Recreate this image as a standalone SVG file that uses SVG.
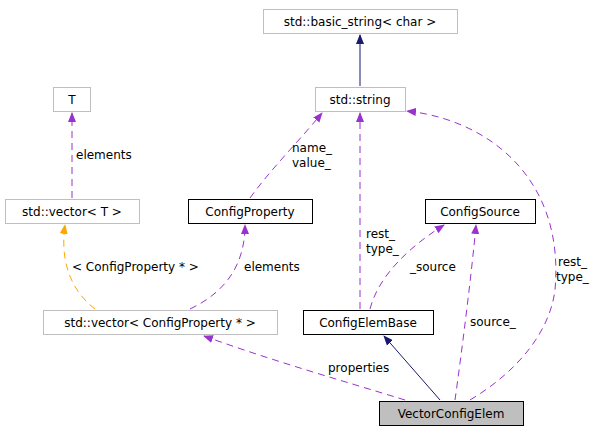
<svg xmlns="http://www.w3.org/2000/svg" width="600" height="435" viewBox="0 0 600 435">
<style>
text{font-family:"DejaVu Sans",sans-serif;font-size:12px;fill:#000}
.n{text-anchor:middle}
.g rect{fill:#fff;stroke:#bfbfbf}
.b rect{fill:#fff;stroke:#000}
.p{fill:none;stroke:#9a32cd;stroke-dasharray:7,5}
.o{fill:none;stroke:#ffa500;stroke-dasharray:7,5}
.s{fill:none;stroke:#191970}
</style>
<defs>
<marker id="mp" viewBox="0 0 10 10" refX="9" refY="5" markerWidth="10" markerHeight="10" markerUnits="userSpaceOnUse" orient="auto"><path d="M0,1L10,5L0,9z" fill="#9a32cd"/></marker>
<marker id="mo" viewBox="0 0 10 10" refX="9" refY="5" markerWidth="10" markerHeight="10" markerUnits="userSpaceOnUse" orient="auto"><path d="M0,1L10,5L0,9z" fill="#ffa500"/></marker>
<marker id="ms" viewBox="0 0 10 10" refX="9" refY="5" markerWidth="10" markerHeight="10" markerUnits="userSpaceOnUse" orient="auto"><path d="M0,1L10,5L0,9z" fill="#191970"/></marker>
</defs>
<rect width="600" height="435" fill="#fff"/>
<g id="edges">
<path class="s" d="M360,86V35" marker-end="url(#ms)"/>
<path class="p" d="M72,198V113" marker-end="url(#mp)"/>
<text x="76" y="159">elements</text>
<path class="p" d="M250,198C270,170 300,140 322,113" marker-end="url(#mp)"/>
<text x="292" y="152">name_</text><text x="292" y="167">value_</text>
<path class="p" d="M360,309V113" marker-end="url(#mp)"/>
<text x="366" y="238">rest_</text><text x="366" y="253">type_</text>
<path class="p" d="M470,400C520,370 550,330 555,290C565,180 490,120 407,111" marker-end="url(#mp)"/>
<text x="558" y="266">rest_</text><text x="556" y="281">type_</text>
<path class="p" d="M370,309C380,270 420,240 444,225" marker-end="url(#mp)"/>
<text x="410" y="271">_source</text>
<path class="p" d="M455,400C462,350 472,270 476,225" marker-end="url(#mp)"/>
<text x="470" y="326">source_</text>
<path class="o" d="M95,309C70,290 60,260 65,225" marker-end="url(#mo)"/>
<text x="72" y="271">&lt; ConfigProperty * &gt;</text>
<path class="p" d="M190,309C230,290 245,260 245,225" marker-end="url(#mp)"/>
<text x="244" y="271">elements</text>
<path class="p" d="M405,400C340,380 270,360 204,336" marker-end="url(#mp)"/>
<text x="328" y="372">properties</text>
<path class="s" d="M440,400L384,336" marker-end="url(#ms)"/>
</g>
<g id="basic_string" class="g"><rect x="263.5" y="9.5" width="194" height="24"/><text class="n" x="360" y="26">std::basic_string&lt; char &gt;</text></g>
<g id="string" class="g"><rect x="315.5" y="87.5" width="90" height="24"/><text class="n" x="360" y="104">std::string</text></g>
<g id="T" class="g"><rect x="53.5" y="87.5" width="37" height="24"/><text class="n" x="72" y="104">T</text></g>
<g id="vectorT" class="g"><rect x="5.5" y="199.5" width="134" height="24"/><text class="n" x="72" y="216">std::vector&lt; T &gt;</text></g>
<g id="ConfigProperty" class="b"><rect x="188.5" y="199.5" width="124" height="24"/><text class="n" x="250" y="216">ConfigProperty</text></g>
<g id="ConfigSource" class="b"><rect x="425.5" y="199.5" width="110" height="24"/><text class="n" x="480" y="216">ConfigSource</text></g>
<g id="vectorCP" class="g"><rect x="43.5" y="310.5" width="234" height="24"/><text class="n" x="160" y="327">std::vector&lt; ConfigProperty * &gt;</text></g>
<g id="ConfigElemBase" class="b"><rect x="303.5" y="310.5" width="130" height="24"/><text class="n" x="368" y="327">ConfigElemBase</text></g>
<g id="VectorConfigElem"><rect x="379.5" y="401.5" width="144" height="24" fill="#bfbfbf" stroke="#000"/><text class="n" x="451" y="418">VectorConfigElem</text></g>
</svg>
